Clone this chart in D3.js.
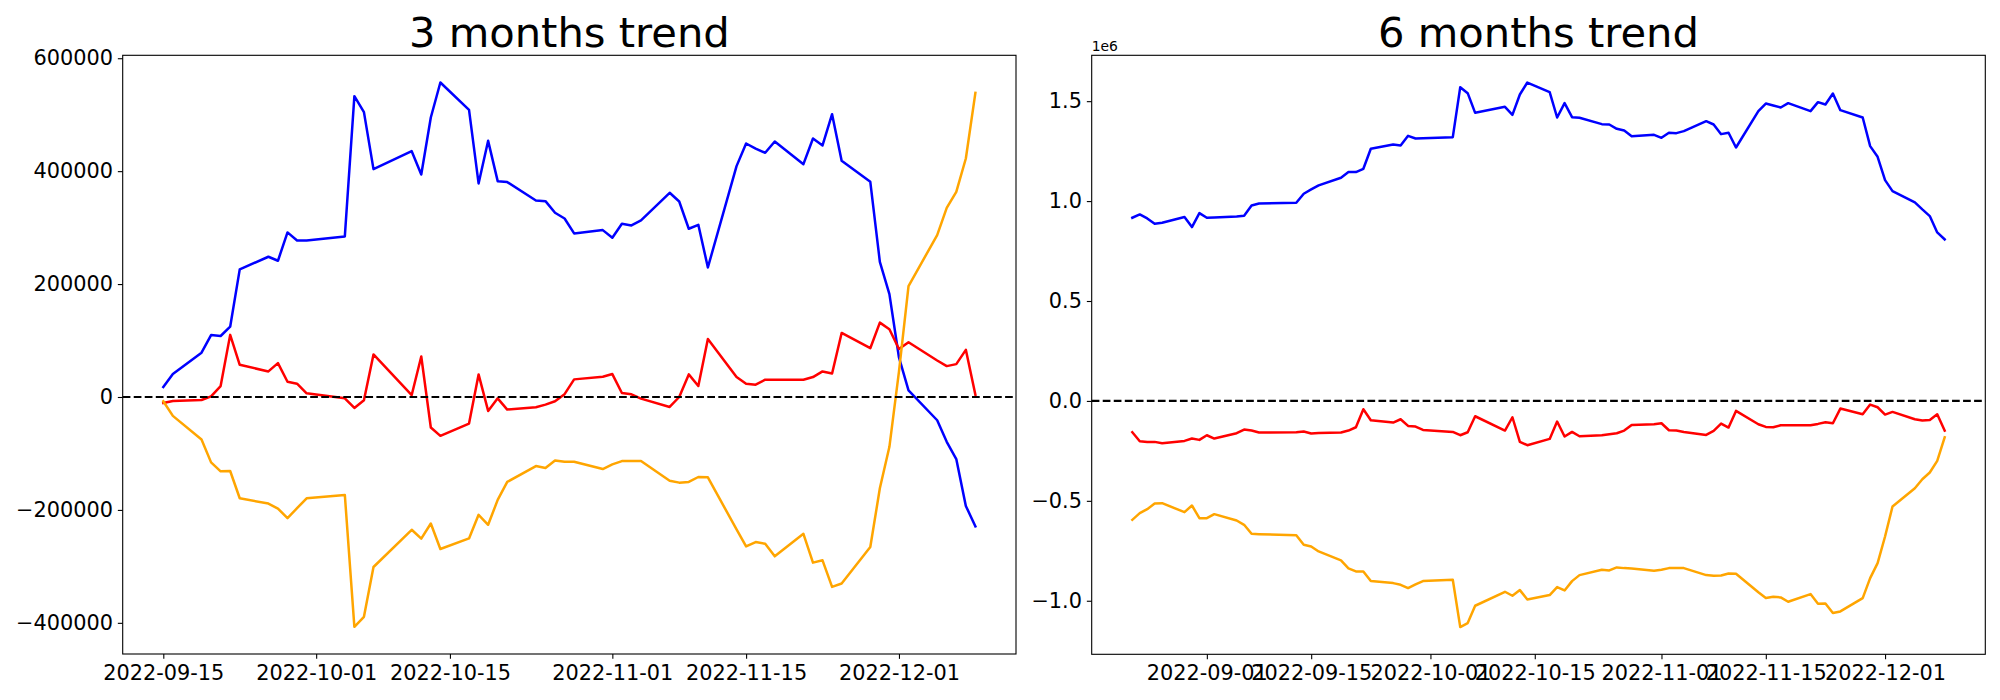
<!DOCTYPE html>
<html><head><meta charset="utf-8">
<script src="https://cdn.jsdelivr.net/npm/d3@7"></script>
<style>body{margin:0;background:#fff}svg{display:block}</style>
</head><body>
<svg id="chart" width="2000" height="700"></svg>
<script>
// ---------- DATA: 3 months ----------
const dates3 = ["2022-09-15","2022-09-16","2022-09-19","2022-09-20","2022-09-21","2022-09-22","2022-09-23","2022-09-26","2022-09-27","2022-09-28","2022-09-29","2022-09-30",
"2022-10-04","2022-10-05","2022-10-06","2022-10-07","2022-10-11","2022-10-12","2022-10-13","2022-10-14","2022-10-17","2022-10-18","2022-10-19","2022-10-20","2022-10-21","2022-10-24","2022-10-25","2022-10-26","2022-10-27","2022-10-28","2022-10-31",
"2022-11-01","2022-11-02","2022-11-03","2022-11-04","2022-11-07","2022-11-08","2022-11-09","2022-11-10","2022-11-11","2022-11-14","2022-11-15","2022-11-16","2022-11-17","2022-11-18","2022-11-21","2022-11-22","2022-11-23","2022-11-24","2022-11-25","2022-11-28","2022-11-29","2022-11-30",
"2022-12-01","2022-12-02","2022-12-05","2022-12-06","2022-12-07","2022-12-08","2022-12-09"];
const blue3 = [17700,40700,78500,109700,108000,124500,226000,248400,241300,291500,277300,277300,
284400,532800,504500,403600,435400,394100,495000,557000,508600,378200,453700,382300,380600,348100,346900,326300,316200,289700,295600,
282000,306800,303900,312700,361700,346300,298000,305000,229500,408900,449000,440000,432500,452500,412400,457800,445500,500900,418300,381100,239500,182300,
70000,11800,-41200,-79400,-110000,-192900,-229300];
const red3 = [-10600,-7100,-5300,1200,19400,110000,57000,45300,60000,27000,23500,6500,
-2400,-19400,-5900,75300,3500,71700,-54100,-68800,-47000,40000,-24700,-2400,-22300,-18200,-13500,-7600,5000,31200,35900,
40600,7100,4700,-2900,-17600,0,40000,19400,102900,35300,23500,21800,30600,30600,30600,35300,45300,41700,113500,86400,131700,120000,
85000,97000,64700,54700,58200,83500,4100];
const orange3 = [-7600,-33500,-75300,-115800,-131700,-131100,-179400,-188800,-197600,-214700,-197000,-179400,
-173500,-407000,-389300,-301100,-235200,-251000,-224000,-269300,-250500,-208700,-226300,-182200,-150400,-122300,-125800,-112300,-114700,-114700,-127600,
-119400,-113500,-113500,-113500,-148200,-151700,-150500,-141700,-142300,-234600,-264600,-257000,-259900,-282200,-242300,-293400,-289300,-336300,-330400,-265800,-161700,-88200,
45000,196500,286700,335100,363400,422400,538700];

// ---------- DATA: 6 months ----------
const dates6 = ["2022-08-22","2022-08-23","2022-08-24","2022-08-25","2022-08-26","2022-08-29","2022-08-30","2022-08-31",
"2022-09-01","2022-09-02","2022-09-05","2022-09-06","2022-09-07","2022-09-08","2022-09-13","2022-09-14","2022-09-15","2022-09-16","2022-09-19","2022-09-20","2022-09-21","2022-09-22","2022-09-23","2022-09-26","2022-09-27","2022-09-28","2022-09-29","2022-09-30",
"2022-10-04","2022-10-05","2022-10-06","2022-10-07","2022-10-11","2022-10-12","2022-10-13","2022-10-14","2022-10-17","2022-10-18","2022-10-19","2022-10-20","2022-10-21","2022-10-24","2022-10-25","2022-10-26","2022-10-27","2022-10-28","2022-10-31",
"2022-11-01","2022-11-02","2022-11-03","2022-11-04","2022-11-07","2022-11-08","2022-11-09","2022-11-10","2022-11-11","2022-11-14","2022-11-15","2022-11-16","2022-11-17","2022-11-18","2022-11-21","2022-11-22","2022-11-23","2022-11-24","2022-11-25","2022-11-28","2022-11-29","2022-11-30",
"2022-12-01","2022-12-02","2022-12-05","2022-12-06","2022-12-07","2022-12-08","2022-12-09"];
const blue6 = [916700,933300,913300,886700,891700,920000,870000,940000,
916700,918300,923300,926700,978300,988300,991700,1036700,1058300,1078300,1116700,1145000,1145000,1161700,1261700,1283300,1278300,1326700,1313300,1315000,
1320000,1570000,1540000,1441700,1471700,1431700,1533300,1593300,1545000,1418300,1490000,1420000,1416700,1385000,1383300,1361700,1353300,1325000,1331700,
1316700,1341700,1340000,1350000,1400000,1383300,1335000,1341700,1268300,1450000,1488300,1478300,1468300,1490000,1450000,1495000,1483300,1538300,1455000,1418300,1275000,1221700,
1105000,1050000,993300,958300,925000,843300,808300];
const red6 = [-156700,-201700,-205000,-205000,-211700,-200000,-188300,-195000,
-171700,-188300,-161700,-143300,-148300,-158300,-156700,-153300,-163300,-160000,-158300,-148300,-131700,-41700,-96700,-108300,-91700,-125000,-128300,-145000,
-155000,-171700,-156700,-76700,-148300,-81700,-205000,-221700,-190000,-103300,-178300,-155000,-176700,-171700,-166700,-161700,-148300,-120000,-116700,
-111700,-146700,-148300,-155000,-170000,-150000,-113300,-133300,-50000,-116700,-130000,-131700,-121700,-121700,-121700,-115000,-106700,-111700,-38300,-66700,-18300,-31700,
-68300,-55000,-91700,-98300,-95000,-66700,-148300];
const orange6 = [-595000,-561700,-541700,-513300,-511700,-556700,-523300,-586700,
-586700,-566700,-598300,-620000,-665000,-666700,-671700,-720000,-728300,-753300,-798300,-838300,-853300,-853300,-901700,-911700,-920000,-936700,-918300,-901700,
-895000,-1131700,-1111700,-1025000,-955000,-975000,-946700,-993300,-971700,-931700,-948300,-901700,-871700,-845000,-848300,-833300,-836700,-838300,-850000,
-845000,-836700,-836700,-836700,-871700,-875000,-873300,-863300,-865000,-957600,-986700,-980000,-983300,-1005000,-966700,-1015000,-1013300,-1061700,-1053300,-986700,-886700,-811700,
-678300,-528300,-436700,-391700,-358300,-300000,-181700];

// ---------- TICKS / LABELS ----------
const xTicks3 = ["2022-09-15","2022-10-01","2022-10-15","2022-11-01","2022-11-15","2022-12-01"];
const yTicks3 = [-400000,-200000,0,200000,400000,600000];
const xTicks6 = ["2022-09-01","2022-09-15","2022-10-01","2022-10-15","2022-11-01","2022-11-15","2022-12-01"];
const yTicks6 = [-1000000,-500000,0,500000,1000000,1500000];
const titles = ["3 months trend","6 months trend"];
const offsetLabel6 = "1e6";
const seriesColors = ["blue","red","orange"];

// ---------- DRAW ----------
const svg = d3.select("#chart");
const parse = d3.utcParse("%Y-%m-%d");
const FONT = "DejaVu Sans, sans-serif";
const TICK_FS = 20.83, TICK_LEN = 4.86, LW = 2.5;

function panel(box, dates, series, xTicks, yTicks, yFmt, title, offsetText) {
  const xs = dates.map(parse);
  const [x0, x1] = d3.extent(xs);
  const span = x1 - x0;
  const x = d3.scaleUtc()
    .domain([new Date(+x0 - 0.05 * span), new Date(+x1 + 0.05 * span)])
    .range([box.left, box.right]);
  const [v0, v1] = d3.extent(series.flat());
  const vs = v1 - v0;
  const y = d3.scaleLinear()
    .domain([v0 - 0.05 * vs, v1 + 0.05 * vs])
    .range([box.bottom, box.top]);

  const g = svg.append("g");

  const line = d3.line().x((d, i) => x(xs[i])).y(d => y(d));
  series.forEach((s, k) => {
    g.append("path").datum(s).attr("d", line)
      .attr("fill", "none").attr("stroke", seriesColors[k])
      .attr("stroke-width", LW).attr("stroke-linejoin", "round").attr("stroke-linecap", "square");
  });

  g.append("line")
    .attr("x1", box.left).attr("x2", box.right)
    .attr("y1", y(0)).attr("y2", y(0))
    .attr("stroke", "black").attr("stroke-width", 2.1)
    .attr("stroke-dasharray", "7.7,3.33");

  const xAxis = d3.axisBottom(x).tickValues(xTicks.map(parse))
    .tickFormat(d3.utcFormat("%Y-%m-%d")).tickSize(TICK_LEN).tickPadding(TICK_LEN);
  const yAxis = d3.axisLeft(y).tickValues(yTicks).tickFormat(yFmt)
    .tickSize(TICK_LEN).tickPadding(TICK_LEN);
  const gx = g.append("g").attr("transform", `translate(0,${box.bottom})`).call(xAxis);
  const gy = g.append("g").attr("transform", `translate(${box.left},0)`).call(yAxis);
  [gx, gy].forEach(a => {
    a.select(".domain").remove();
    a.selectAll(".tick line").attr("stroke", "black").attr("stroke-width", 1.1);
    a.selectAll(".tick text").attr("fill", "black")
      .style("font-family", FONT).style("font-size", TICK_FS + "px");
  });
  gx.selectAll(".tick text").attr("dy", "0.76em");

  g.append("rect")
    .attr("x", box.left).attr("y", box.top)
    .attr("width", box.right - box.left).attr("height", box.bottom - box.top)
    .attr("fill", "none").attr("stroke", "black").attr("stroke-width", 1.1);

  g.append("text").text(title)
    .attr("x", (box.left + box.right) / 2).attr("y", box.top - 8.33)
    .attr("text-anchor", "middle")
    .style("font-family", FONT).style("font-size", "41.67px").attr("fill", "black");

  if (offsetText) {
    g.append("text").text(offsetText)
      .attr("x", box.left).attr("y", 51)
      .style("font-family", FONT).style("font-size", "13.9px").attr("fill", "black");
  }
}

panel({left: 122.7, right: 1016, top: 55.3, bottom: 654},
  dates3, [blue3, red3, orange3], xTicks3, yTicks3, d3.format("d"), titles[0], null);
panel({left: 1091.7, right: 1985.3, top: 55.3, bottom: 654.3},
  dates6, [blue6, red6, orange6], xTicks6, yTicks6, d => d3.format(".1f")(d / 1e6), titles[1], offsetLabel6);
</script>
</body></html>
